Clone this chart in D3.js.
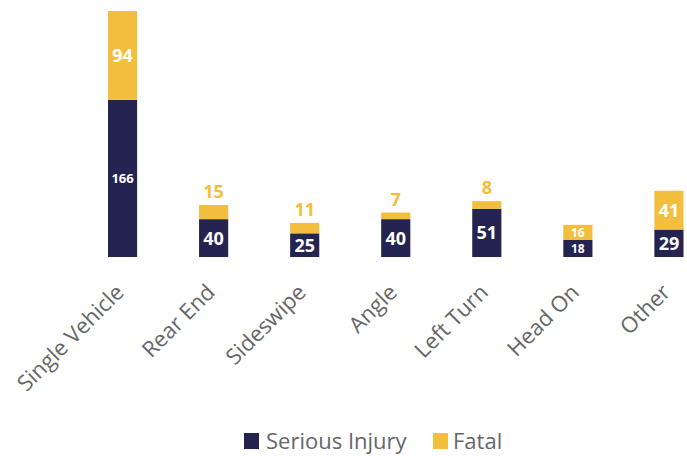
<!DOCTYPE html>
<html>
<head>
<meta charset="utf-8">
<script src="https://cdn.jsdelivr.net/npm/d3@7"></script>
<style>
  body { margin: 0; background: #fff; }
  svg { display: block; font-family: "Open Sans", "Noto Sans", sans-serif; }
</style>
</head>
<body>
<div id="chart"></div>
<script>
// data
const categories = ["Single Vehicle", "Rear End", "Sideswipe", "Angle", "Left Turn", "Head On", "Other"];
const seriousInjury = [166, 40, 25, 40, 51, 18, 29];
const fatal = [94, 15, 11, 7, 8, 16, 41];
const seriesNames = ["Serious Injury", "Fatal"];

const colors = { "Serious Injury": "#252451", "Fatal": "#f3be3d" };

const width = 687, height = 456;
const baseY = 257, topY = 11;

const svg = d3.select("#chart").append("svg")
  .attr("width", width)
  .attr("height", height);

const rows = categories.map(function(c, i) {
  return { cat: c, serious: seriousInjury[i], fatal: fatal[i] };
});

const x = d3.scaleBand()
  .domain(categories)
  .range([108, 683.5])
  .paddingInner(0.68)
  .paddingOuter(0);

const y = d3.scaleLinear()
  .domain([0, d3.max(rows, function(d) { return d.serious + d.fatal; })])
  .range([baseY, topY]);

// stacked bars
const g = svg.append("g");

g.selectAll(".serious")
  .data(rows)
  .enter().append("rect")
  .attr("class", "serious")
  .attr("x", function(d) { return x(d.cat); })
  .attr("width", x.bandwidth())
  .attr("y", function(d) { return y(d.serious); })
  .attr("height", function(d) { return y(0) - y(d.serious); })
  .attr("fill", colors["Serious Injury"]);

g.selectAll(".fatal")
  .data(rows)
  .enter().append("rect")
  .attr("class", "fatal")
  .attr("x", function(d) { return x(d.cat); })
  .attr("width", x.bandwidth())
  .attr("y", function(d) { return y(d.serious + d.fatal); })
  .attr("height", function(d) { return y(d.serious) - y(d.serious + d.fatal); })
  .attr("fill", colors["Fatal"]);

// labels: small font where power bi shrunk them
function smallLabel(cat) { return cat === "Single Vehicle" || cat === "Head On"; }

g.selectAll(".lbl-serious")
  .data(rows)
  .enter().append("text")
  .attr("class", "lbl-serious")
  .attr("x", function(d) { return x(d.cat) + x.bandwidth() / 2; })
  .attr("y", function(d) { return (y(0) + y(d.serious)) / 2; })
  .attr("dy", "0.36em")
  .attr("text-anchor", "middle")
  .attr("fill", "#fff")
  .attr("font-weight", 700)
  .attr("font-size", function(d) { return d.cat === "Head On" ? 12 : smallLabel(d.cat) ? 13 : 18; })
  .text(function(d) { return d.serious; });

g.selectAll(".lbl-fatal")
  .data(rows)
  .enter().append("text")
  .attr("class", "lbl-fatal")
  .each(function(d) {
    const h = y(d.serious) - y(d.serious + d.fatal);
    const inside = h > 14.5;
    d3.select(this)
      .attr("x", x(d.cat) + x.bandwidth() / 2)
      .attr("y", inside ? (y(d.serious) + y(d.serious + d.fatal)) / 2 : y(d.serious + d.fatal) - 7)
      .attr("dy", inside ? "0.36em" : 0)
      .attr("fill", inside ? "#fff" : colors["Fatal"])
      .attr("font-size", d.cat === "Head On" ? 12 : 18);
  })
  .attr("text-anchor", "middle")
  .attr("font-weight", 700)
  .text(function(d) { return d.fatal; });

// x axis labels, rotated
const xaxis = d3.axisBottom(x).tickSize(0).tickPadding(0);
const gx = svg.append("g")
  .attr("transform", "translate(0," + (baseY + 12) + ")")
  .call(xaxis);
gx.select(".domain").remove();
gx.selectAll("text")
  .attr("fill", "#666")
  .attr("font-size", 22)
  .attr("font-family", "Open Sans, sans-serif")
  .attr("text-anchor", "end")
  .attr("dy", "0.75em")
  .attr("transform", "translate(-9,13) rotate(-45)");

// legend
const legend = svg.append("g").attr("transform", "translate(244,433)");
const items = [{ name: seriesNames[0], x: 0 }, { name: seriesNames[1], x: 189 }];
const li = legend.selectAll("g")
  .data(items)
  .enter().append("g")
  .attr("transform", function(d) { return "translate(" + d.x + ",0)"; });
li.append("rect")
  .attr("width", 15).attr("height", 16)
  .attr("fill", function(d) { return colors[d.name]; });
li.append("text")
  .attr("x", function(d, i) { return i === 0 ? 22 : 20; })
  .attr("y", 16)
  .attr("fill", "#666")
  .attr("font-size", 22)
  .text(function(d) { return d.name; });
</script>
</body>
</html>
